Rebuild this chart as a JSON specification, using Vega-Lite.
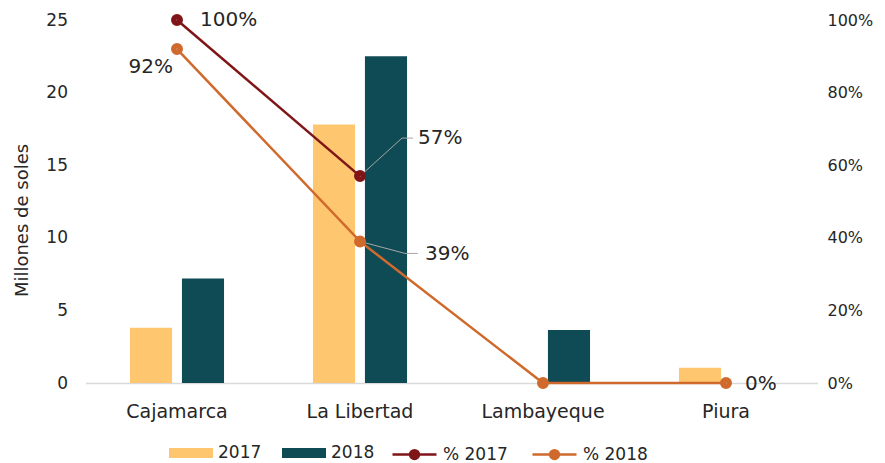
{
  "$schema": "https://vega.github.io/schema/vega-lite/v6.json",
  "width": 732,
  "height": 363,
  "autosize": {"type": "none"},
  "padding": {"left": 85.5, "top": 20, "right": 67.5, "bottom": 80},
  "config": {"view": {"stroke": null}, "font": "DejaVu Sans"},
  "datasets": {
    "bars": [
      {"region": "Cajamarca", "serie": "2017", "value": 3.8},
      {"region": "Cajamarca", "serie": "2018", "value": 7.2},
      {"region": "La Libertad", "serie": "2017", "value": 17.8},
      {"region": "La Libertad", "serie": "2018", "value": 22.5},
      {"region": "Lambayeque", "serie": "2017", "value": 0},
      {"region": "Lambayeque", "serie": "2018", "value": 3.65},
      {"region": "Piura", "serie": "2017", "value": 1.05},
      {"region": "Piura", "serie": "2018", "value": 0}
    ],
    "pct": [
      {"region": "Cajamarca", "serie": "% 2017", "pct": 1.0},
      {"region": "La Libertad", "serie": "% 2017", "pct": 0.57},
      {"region": "Cajamarca", "serie": "% 2018", "pct": 0.92},
      {"region": "La Libertad", "serie": "% 2018", "pct": 0.39},
      {"region": "Lambayeque", "serie": "% 2018", "pct": 0.0},
      {"region": "Piura", "serie": "% 2018", "pct": 0.0}
    ]
  },
  "encoding": {
    "x": {
      "field": "region",
      "type": "nominal",
      "scale": {"paddingInner": 0.486, "paddingOuter": 0.243},
      "axis": {
        "title": null,
        "labelAngle": 0,
        "labelFont": "DejaVu Sans",
        "labelFontSize": 19,
        "labelColor": "#262626",
        "labelPadding": 19,
        "ticks": false,
        "tickSize": 0,
        "domainColor": "#d9d9d9",
        "domainWidth": 1.5,
        "grid": false
      }
    }
  },
  "layer": [
    {
      "data": {"name": "bars"},
      "mark": {"type": "bar"},
      "encoding": {
        "xOffset": {"field": "serie", "type": "nominal", "scale": {"paddingInner": 0.19}},
        "y": {
          "field": "value",
          "type": "quantitative",
          "scale": {"domain": [0, 25]},
          "axis": {
            "orient": "left",
            "values": [0, 5, 10, 15, 20, 25],
            "title": "Millones de soles",
            "titleFont": "DejaVu Sans",
            "titleFontSize": 18,
            "titleFontWeight": "normal",
            "titleColor": "#262626",
            "titlePadding": 14,
            "titleY": 200,
            "labelFont": "DejaVu Sans",
            "labelFontSize": 17,
            "labelColor": "#262626",
            "labelPadding": 18,
            "ticks": false,
            "tickSize": 0,
            "domain": false,
            "grid": false
          }
        },
        "fill": {
          "field": "serie",
          "type": "nominal",
          "scale": {"domain": ["2017", "2018"], "range": ["#FEC76F", "#0F4B55"]},
          "legend": {
            "title": null,
            "orient": "none",
            "direction": "horizontal",
            "legendX": 83.5,
            "legendY": 411,
            "padding": 0,
            "symbolType": "M-1,-0.23H1V0.23H-1Z",
            "symbolSize": 1936,
            "symbolStrokeWidth": 0,
            "symbolOpacity": 1,
            "labelFont": "DejaVu Sans",
            "labelFontSize": 17,
            "labelColor": "#262626",
            "labelOffset": 5,
            "columnPadding": 20
          }
        }
      }
    },
    {
      "data": {"name": "pct"},
      "encoding": {
        "y": {
          "field": "pct",
          "type": "quantitative",
          "scale": {"domain": [0, 1]},
          "axis": {
            "orient": "right",
            "format": ".0%",
            "values": [0, 0.2, 0.4, 0.6, 0.8, 1.0],
            "title": null,
            "labelFont": "DejaVu Sans",
            "labelFontSize": 16,
            "labelColor": "#262626",
            "labelPadding": 9.5,
            "ticks": false,
            "tickSize": 0,
            "domain": false,
            "grid": false
          }
        }
      },
      "layer": [
        {
          "transform": [{"filter": "datum.region == 'La Libertad' && datum.serie == '% 2017'"}],
          "mark": {"type": "rule", "color": "#A6A6A6", "strokeWidth": 1, "x2Offset": 42, "y2Offset": -38},
          "encoding": {"x2": {"field": "region"}, "y2": {"field": "pct"}}
        },
        {
          "transform": [{"filter": "datum.region == 'La Libertad' && datum.serie == '% 2017'"}],
          "mark": {"type": "rule", "color": "#A6A6A6", "strokeWidth": 1, "xOffset": 42, "yOffset": -38, "x2Offset": 53, "y2Offset": -38},
          "encoding": {"x2": {"field": "region"}, "y2": {"field": "pct"}}
        },
        {
          "transform": [{"filter": "datum.region == 'La Libertad' && datum.serie == '% 2018'"}],
          "mark": {"type": "rule", "color": "#A6A6A6", "strokeWidth": 1, "x2Offset": 45, "y2Offset": 12},
          "encoding": {"x2": {"field": "region"}, "y2": {"field": "pct"}}
        },
        {
          "transform": [{"filter": "datum.region == 'La Libertad' && datum.serie == '% 2018'"}],
          "mark": {"type": "rule", "color": "#A6A6A6", "strokeWidth": 1, "xOffset": 45, "yOffset": 12, "x2Offset": 58, "y2Offset": 12},
          "encoding": {"x2": {"field": "region"}, "y2": {"field": "pct"}}
        },
        {
          "mark": {"type": "line", "strokeWidth": 2.5},
          "encoding": {
            "stroke": {
              "field": "serie",
              "type": "nominal",
              "scale": {"domain": ["% 2017", "% 2018"], "range": ["#7F1517", "#D06A2C"]},
              "legend": {
                "title": null,
                "orient": "none",
                "direction": "horizontal",
                "legendX": 305.5,
                "legendY": 411,
                "padding": 0,
                "symbolType": "M-1,0H1M0.2,0A0.2,0.2 0 1,1 -0.2,0A0.2,0.2 0 1,1 0.2,0M0.14,0A0.14,0.14 0 1,1 -0.14,0A0.14,0.14 0 1,1 0.14,0M0.08,0A0.08,0.08 0 1,1 -0.08,0A0.08,0.08 0 1,1 0.08,0M0.03,0A0.03,0.03 0 1,1 -0.03,0A0.03,0.03 0 1,1 0.03,0",
                "symbolSize": 1936,
                "symbolStrokeWidth": 2.5,
                "symbolOpacity": 1,
                "labelFont": "DejaVu Sans",
                "labelFontSize": 17,
                "labelColor": "#262626",
                "labelOffset": 5,
                "columnPadding": 19
              }
            }
          }
        },
        {
          "mark": {"type": "point", "filled": false, "size": 30, "strokeWidth": 6.5, "opacity": 1},
          "encoding": {
            "stroke": {
              "field": "serie",
              "type": "nominal",
              "legend": {
                "title": null,
                "orient": "none",
                "direction": "horizontal",
                "legendX": 305.5,
                "legendY": 411,
                "padding": 0,
                "symbolType": "M-1,0H1M0.2,0A0.2,0.2 0 1,1 -0.2,0A0.2,0.2 0 1,1 0.2,0M0.14,0A0.14,0.14 0 1,1 -0.14,0A0.14,0.14 0 1,1 0.14,0M0.08,0A0.08,0.08 0 1,1 -0.08,0A0.08,0.08 0 1,1 0.08,0M0.03,0A0.03,0.03 0 1,1 -0.03,0A0.03,0.03 0 1,1 0.03,0",
                "symbolSize": 1936,
                "symbolStrokeWidth": 2.5,
                "symbolOpacity": 1,
                "labelFont": "DejaVu Sans",
                "labelFontSize": 17,
                "labelColor": "#262626",
                "labelOffset": 5,
                "columnPadding": 19
              }
            }
          }
        },
        {
          "transform": [{"filter": "datum.region == 'Cajamarca' && datum.serie == '% 2017'"}],
          "mark": {"type": "text", "align": "left", "baseline": "middle", "dx": 23, "dy": 0, "fontSize": 20, "color": "#262626"},
          "encoding": {"text": {"field": "pct", "type": "quantitative", "format": ".0%"}}
        },
        {
          "transform": [{"filter": "datum.region == 'Cajamarca' && datum.serie == '% 2018'"}],
          "mark": {"type": "text", "align": "right", "baseline": "middle", "dx": -4, "dy": 18, "fontSize": 20, "color": "#262626"},
          "encoding": {"text": {"field": "pct", "type": "quantitative", "format": ".0%"}}
        },
        {
          "transform": [{"filter": "datum.region == 'La Libertad' && datum.serie == '% 2017'"}],
          "mark": {"type": "text", "align": "left", "baseline": "middle", "dx": 58, "dy": -38, "fontSize": 20, "color": "#262626"},
          "encoding": {"text": {"field": "pct", "type": "quantitative", "format": ".0%"}}
        },
        {
          "transform": [{"filter": "datum.region == 'La Libertad' && datum.serie == '% 2018'"}],
          "mark": {"type": "text", "align": "left", "baseline": "middle", "dx": 65, "dy": 13, "fontSize": 20, "color": "#262626"},
          "encoding": {"text": {"field": "pct", "type": "quantitative", "format": ".0%"}}
        },
        {
          "transform": [{"filter": "datum.region == 'Piura' && datum.serie == '% 2018'"}],
          "mark": {"type": "text", "align": "left", "baseline": "middle", "dx": 19, "dy": 1, "fontSize": 20, "color": "#262626"},
          "encoding": {"text": {"field": "pct", "type": "quantitative", "format": ".0%"}}
        }
      ]
    }
  ],
  "resolve": {"scale": {"y": "independent"}}
}
